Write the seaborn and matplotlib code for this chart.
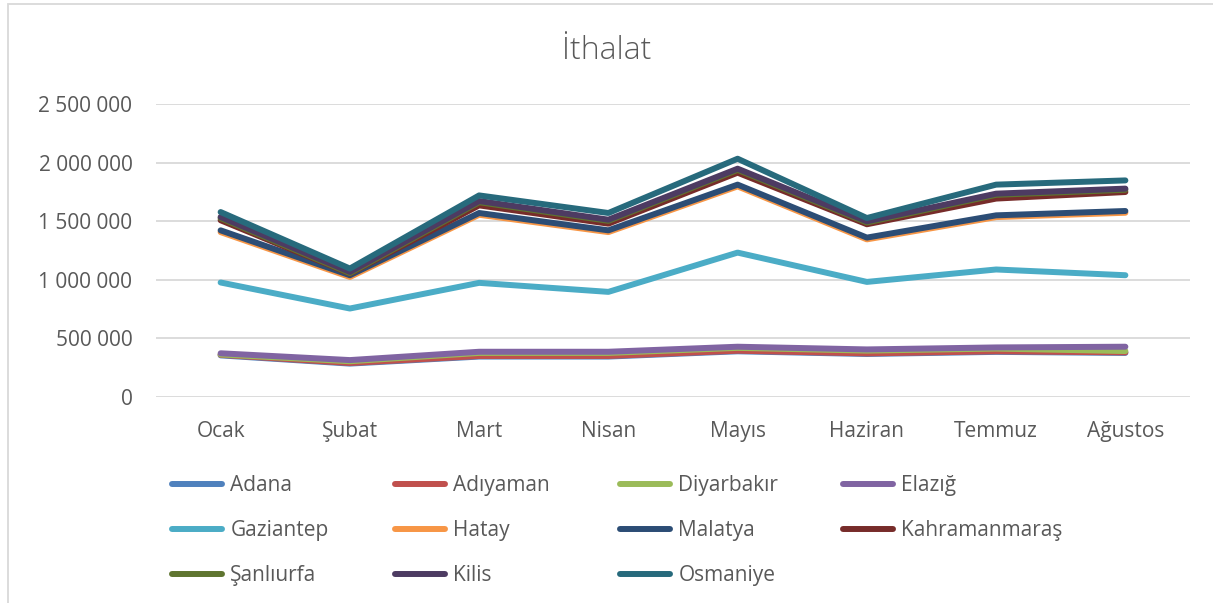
"""Ithalat line chart, Excel style."""

import matplotlib.pyplot as plt
import pandas as pd
import seaborn as sns
from matplotlib.patches import Rectangle
from matplotlib.ticker import FuncFormatter

months = ["Ocak", "Şubat", "Mart", "Nisan", "Mayıs", "Haziran", "Temmuz", "Ağustos"]

provinces = [
    "Adana", "Adıyaman", "Diyarbakır", "Elazığ",
    "Gaziantep", "Hatay", "Malatya", "Kahramanmaraş",
    "Şanlıurfa", "Kilis", "Osmaniye",
]

adana = [355000, 285000, 345000, 345000, 390000, 367000, 385000, 376000]
adiyaman = [360000, 290000, 350000, 350000, 395000, 372000, 390000, 381000]
diyarbakir = [363000, 305000, 376000, 376000, 419000, 396000, 413000, 392000]
elazig = [373000, 315000, 386000, 386000, 429000, 406000, 423000, 429000]
gaziantep = [977000, 755000, 974000, 897000, 1232000, 982000, 1088000, 1039000]
hatay = [1407000, 1024000, 1555000, 1407000, 1797000, 1345000, 1535000, 1572000]
malatya = [1422000, 1039000, 1570000, 1422000, 1812000, 1360000, 1550000, 1587000]
kahramanmaras = [1508000, 1053000, 1635000, 1479000, 1914000, 1474000, 1693000, 1749000]
sanliurfa = [1526000, 1057000, 1662000, 1503000, 1938000, 1489000, 1725000, 1768000]
kilis = [1536000, 1067000, 1672000, 1513000, 1948000, 1499000, 1735000, 1778000]
osmaniye = [1578000, 1096000, 1720000, 1570000, 2033000, 1527000, 1812000, 1848000]

series = [
    adana, adiyaman, diyarbakir, elazig, gaziantep, hatay,
    malatya, kahramanmaras, sanliurfa, kilis, osmaniye,
]

colors = [
    "#4F81BD", "#C0504D", "#9BBB59", "#8064A2", "#4BACC6", "#F79646",
    "#2C4D75", "#772C2A", "#5F7530", "#4D3B62", "#276A7C",
]

rows = []
for name, values in zip(provinces, series):
    for month, value in zip(months, values):
        rows.append({"ay": month, "il": name, "deger": value})
df = pd.DataFrame(rows)
df["x"] = df["ay"].map({m: i for i, m in enumerate(months)})

sns.set_theme(style="white")
plt.rcParams["font.family"] = ["Open Sans", "DejaVu Sans"]
text_color = "#595959"

W, H = 1213, 603
fig = plt.figure(figsize=(W / 100, H / 100), dpi=100)
ax = fig.add_axes([156 / W, 206 / H, (1190 - 156) / W, (397 - 104) / H])

sns.lineplot(
    data=df, x="x", y="deger", hue="il", hue_order=provinces,
    palette=colors, sort=False, linewidth=4.3, legend=False, ax=ax,
    solid_capstyle="round", solid_joinstyle="round",
)

ax.set_xlim(-0.5, len(months) - 0.5)
ax.set_ylim(0, 2500000)
ax.set_yticks(range(0, 2500001, 500000))
ax.yaxis.set_major_formatter(FuncFormatter(lambda v, _: f"{v:,.0f}".replace(",", " ")))
ax.set_xticks(range(len(months)))
ax.set_xticklabels(months)
ax.set_xlabel("")
ax.set_ylabel("")
ax.grid(axis="y", color="#D9D9D9", linewidth=1.3)
ax.set_axisbelow(True)
for spine in ax.spines.values():
    spine.set_visible(False)
ax.tick_params(axis="y", length=0, pad=17, labelsize=15, labelcolor=text_color)
ax.tick_params(axis="x", length=0, pad=17, labelsize=15, labelcolor=text_color)

fig.text(0.5, 1 - 51 / H, "İthalat", ha="center", va="center",
         fontsize=23, color=text_color, fontweight="light")

# legend: four fixed-width columns like Excel
lines = ax.get_lines()
col_x = [172, 395, 620, 843]
for c, x0 in enumerate(col_x):
    idx = list(range(c, len(provinces), 4))
    leg = fig.legend(
        [lines[i] for i in idx], [provinces[i] for i in idx],
        loc="upper left", bbox_to_anchor=(x0 / W, 1 - 475 / H),
        frameon=False, fontsize=15, handlelength=2.4, handletextpad=0.4,
        labelspacing=1.16, borderpad=0, borderaxespad=0,
    )
    for t in leg.get_texts():
        t.set_color(text_color)

fig.patches.append(Rectangle((8 / W, -0.05), 1.1, 1 - 4 / H + 0.05,
                             transform=fig.transFigure, fill=False,
                             edgecolor="#D9D9D9", linewidth=1.3))

fig.savefig("out.png", dpi=100)
